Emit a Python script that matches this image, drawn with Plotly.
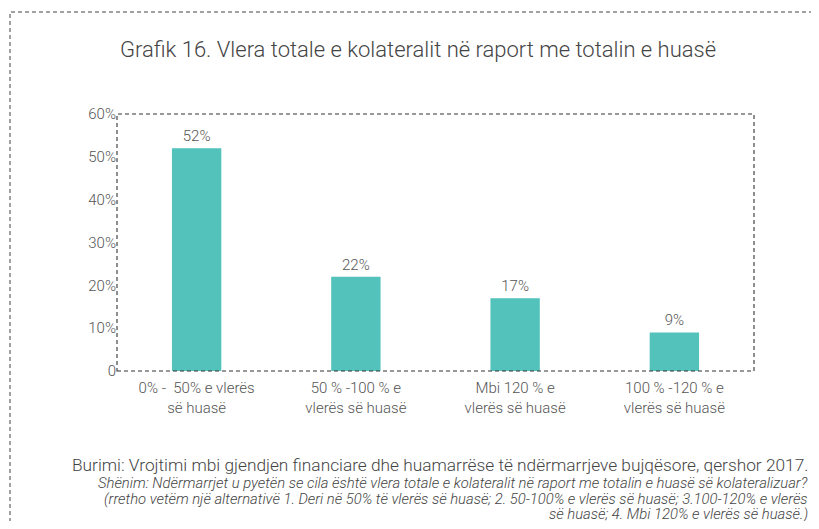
import plotly.graph_objects as go

categories = [
    "0% -  50% e vlerës<br>së huasë",
    "50 % -100 % e<br>vlerës së huasë",
    "Mbi 120 % e<br>vlerës së huasë",
    "100 % -120 % e<br>vlerës së huasë",
]
values = [52, 22, 17, 9]
tick_vals = [0, 10, 20, 30, 40, 50, 60]
tick_text = ["0", "10%", "20%", "30%", "40%", "50%", "60%"]

title = "Grafik 16. Vlera totale e kolateralit në raport me totalin e huasë"
source = "Burimi: Vrojtimi mbi gjendjen financiare dhe huamarrëse të ndërmarrjeve bujqësore, qershor 2017."
note_lines = [
    "Shënim: Ndërmarrjet u pyetën se cila është vlera totale e kolateralit në raport me totalin e huasë së kolateralizuar?",
    "(rretho vetëm një alternativë 1. Deri në 50% të vlerës së huasë; 2. 50-100% e vlerës së huasë; 3.100-120% e vlerës",
    "së huasë; 4. Mbi 120% e vlerës së huasë.)",
]

FONT = "Roboto"
GREY = "#555555"

# the page body adds an 8px margin, so the figure is drawn smaller and shifted
OFF = 8
W, H = 819 - OFF, 529 - 2 * OFF
ml, mr, mt, mb = 117 - OFF, 819 - 754, 114 - OFF, (H + OFF) - 371
pw, ph = W - ml - mr, H - mt - mb
RIGHT = 810  # right edge for the source texts


def px(x):
    return (x - OFF - ml) / pw


def py(y):
    return (H - mb - (y - OFF)) / ph


fig = go.Figure()
fig.add_trace(go.Bar(
    x=categories,
    y=values,
    width=0.31,
    marker=dict(color="#52c2bb", line=dict(width=0)),
    text=[f"{v}%" for v in values],
    textposition="outside",
    textfont=dict(size=15, color=GREY, family=FONT, weight=300),
    cliponaxis=False,
))

annotations = [
    dict(text=source, xref="paper", yref="paper", x=px(RIGHT), y=py(465),
         xanchor="right", yanchor="middle", showarrow=False,
         font=dict(size=17.3, color="#444444", weight=300)),
]
for line, yy in zip(note_lines, [483, 499, 514]):
    annotations.append(dict(
        text=line, xref="paper", yref="paper", x=px(RIGHT), y=py(yy),
        xanchor="right", yanchor="middle", showarrow=False,
        font=dict(size=14.8, color="#444444", style="italic", weight=300),
    ))

fig.update_layout(
    width=W,
    height=H,
    margin=dict(l=ml, r=mr, t=mt, b=mb),
    paper_bgcolor="white",
    plot_bgcolor="white",
    showlegend=False,
    font=dict(family=FONT, color=GREY, weight=300),
    xaxis=dict(
        showgrid=False, showline=False, zeroline=False, ticks="",
        ticklabelstandoff=6,
        tickfont=dict(size=15, color=GREY, weight=300),
    ),
    yaxis=dict(
        range=[0, 60], tickvals=tick_vals, ticktext=tick_text,
        showgrid=False, showline=False, zeroline=False, ticks="",
        ticklabelstandoff=0,
        tickfont=dict(size=15, color=GREY, weight=300),
    ),
    title=dict(
        text=title, x=px(418), xref="paper", xanchor="center",
        y=1 - (49 - OFF) / H, yref="container", yanchor="middle",
        font=dict(size=22, color="#444444", family=FONT, weight=300),
    ),
    shapes=[
        # plot frame
        dict(type="rect", xref="paper", yref="paper", x0=0, x1=1, y0=0, y1=1,
             line=dict(color="#333333", width=1.1, dash="4px,3px")),
        # outer frame
        dict(type="rect", xref="paper", yref="paper",
             x0=px(10), x1=px(830), y0=py(540), y1=py(12),
             line=dict(color="#444444", width=1, dash="4px,3px")),
    ],
    annotations=annotations,
)

fig.write_html("out.html")
